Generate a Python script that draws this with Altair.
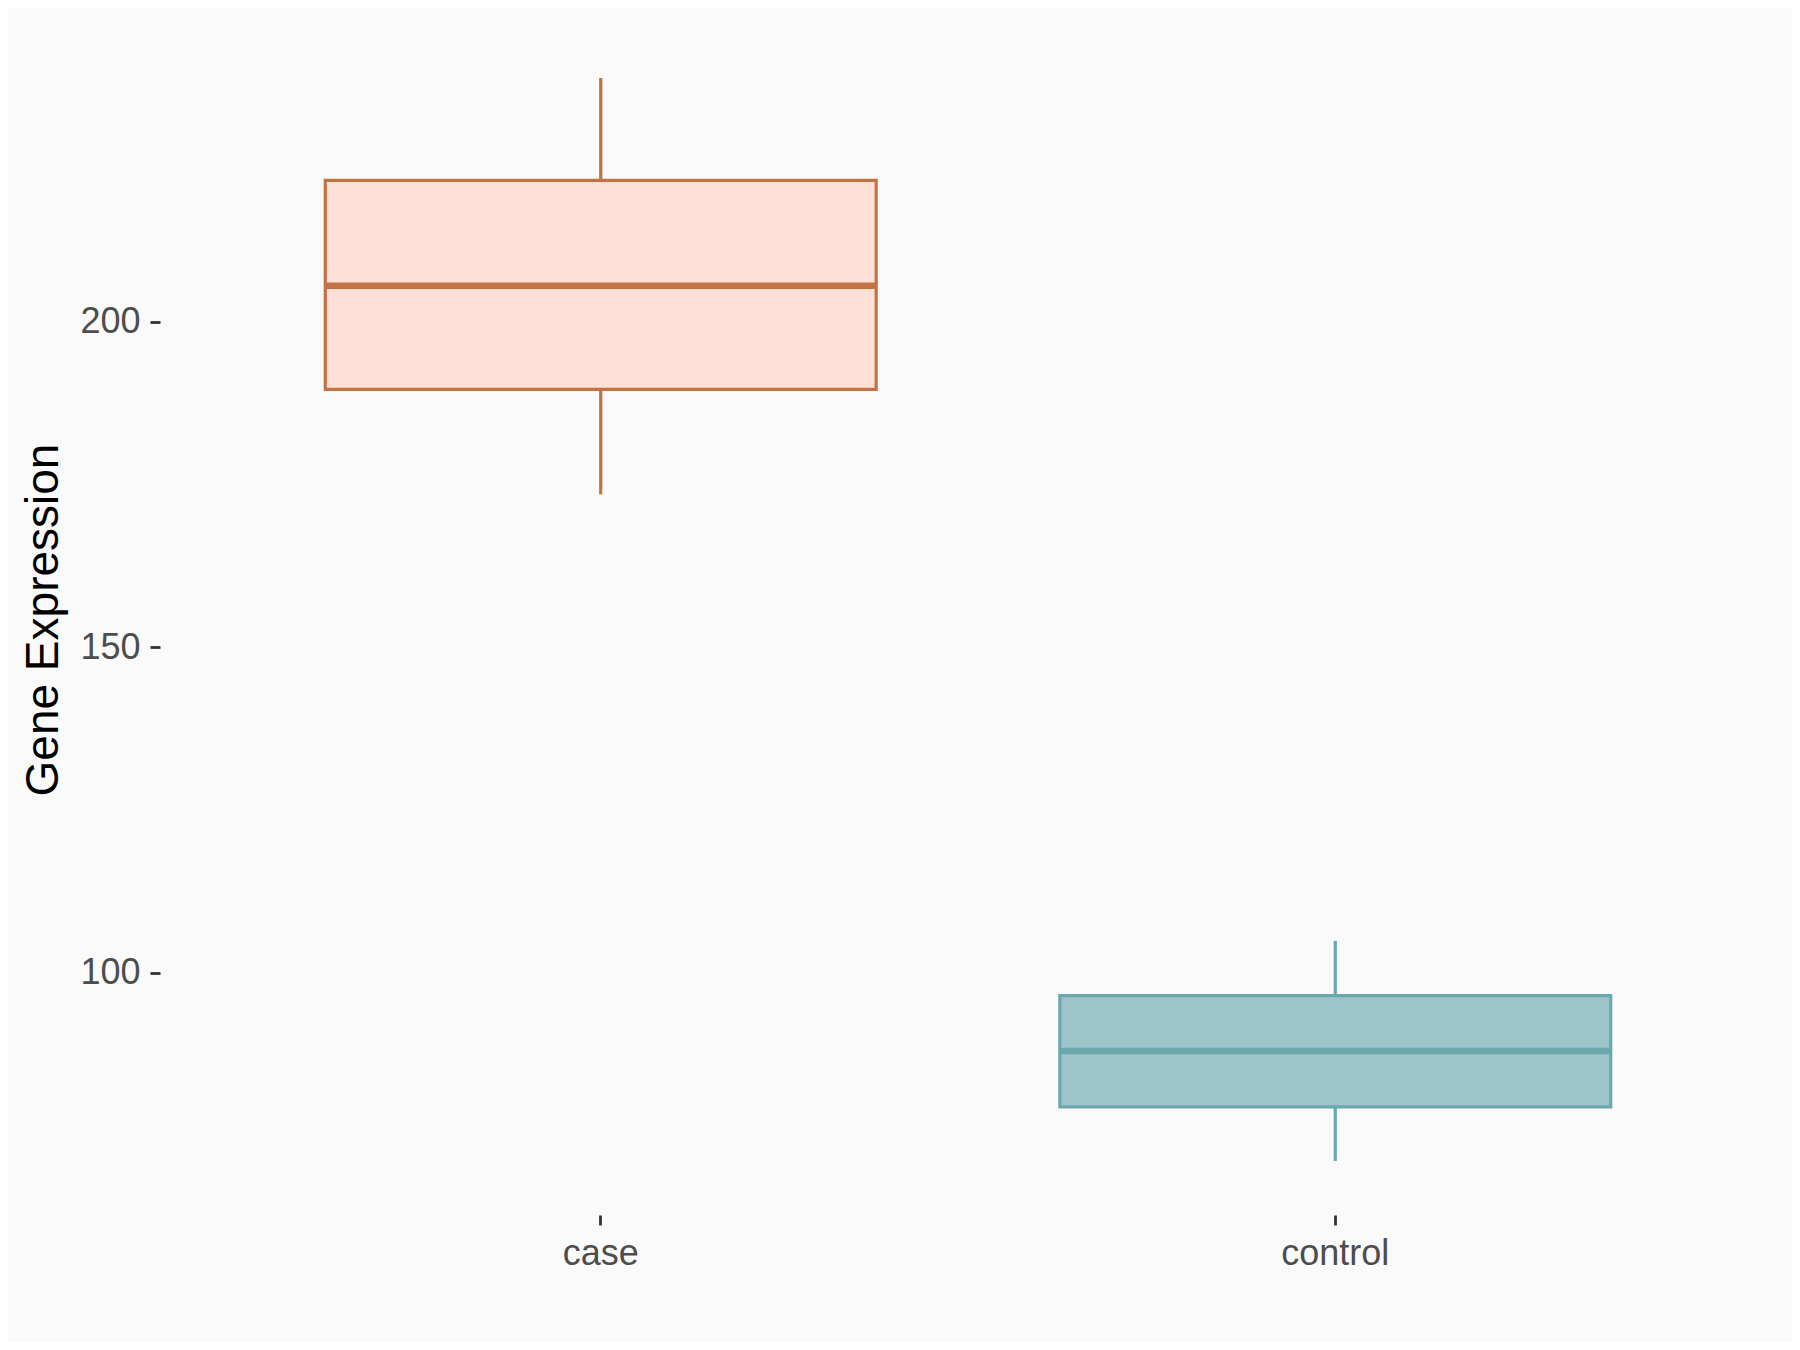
import altair as alt
import pandas as pd

groups = ["case", "control"]
whisker_low = [173.5, 71.1]
q1 = [189.6, 79.4]
median = [205.5, 88.0]
q3 = [221.7, 96.5]
whisker_high = [237.4, 104.9]
fills = ["#FFE0D6", "#9DC4C8"]
strokes = ["#C07444", "#6AA8AE"]

df = pd.DataFrame({
    "group": groups,
    "lo": whisker_low,
    "q1": q1,
    "med": median,
    "q3": q3,
    "hi": whisker_high,
})

W, H = 1616, 1191
step = W / 2.2

x = alt.X("group:N", title=None,
          scale=alt.Scale(domain=groups, paddingInner=0.25, paddingOuter=0.225),
          axis=alt.Axis(labelAngle=0, labelFont="Liberation Sans", labelFontSize=36,
                        labelColor="#4D4D4D", tickColor="#333333", tickSize=10,
                        tickWidth=2.8, labelPadding=11, domain=False, grid=False))
yscale = alt.Scale(domain=[62.8, 245.7], nice=False, zero=False)
yaxis = alt.Axis(values=[100, 150, 200], labelFont="Liberation Sans", labelFontSize=36,
                 labelColor="#4D4D4D", tickColor="#333333", tickSize=10, tickWidth=2.8,
                 labelPadding=10, domain=False, grid=False,
                 title="Gene Expression", titleFont="Liberation Sans", titleFontSize=46,
                 titleFontWeight="normal", titleColor="#000000", titlePadding=12)

color = alt.Color("group:N", scale=alt.Scale(domain=groups, range=strokes), legend=None)
fill = alt.Fill("group:N", scale=alt.Scale(domain=groups, range=fills), legend=None)

base = alt.Chart(df)
whisk = base.mark_rule(strokeWidth=3.2).encode(
    x=x, y=alt.Y("lo:Q", scale=yscale, axis=yaxis), y2="hi:Q", color=color)
box = base.mark_bar(strokeWidth=3.2, opacity=1).encode(
    x=x, y=alt.Y("q1:Q", scale=yscale, axis=yaxis), y2="q3:Q", fill=fill,
    stroke=alt.Stroke("group:N", scale=alt.Scale(domain=groups, range=strokes), legend=None))
med = base.mark_tick(size=step * 0.75, thickness=6.5, opacity=1).encode(
    x=x, y=alt.Y("med:Q", scale=yscale, axis=yaxis), color=color)

chart = alt.layer(whisk, box, med).properties(
    width=W, height=H,
    padding={"left": 152, "top": 16, "right": 16, "bottom": 127},
    autosize=alt.AutoSizeParams(type="none"),
    background="#FAFAFA",
).configure_view(stroke=None)

chart.save("out.html", embed_options={"renderer": "svg", "actions": False})
